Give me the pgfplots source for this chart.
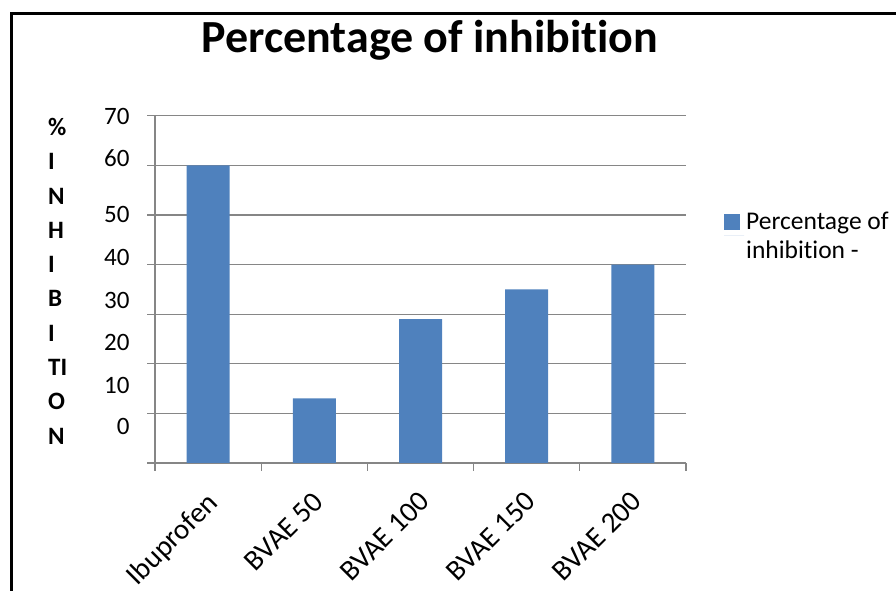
\documentclass[border=0pt]{standalone}
\usepackage{fontspec}
\setmainfont{Carlito}[Ligatures={NoCommon}]
\usepackage{pgfplots}
\pgfplotsset{compat=1.18}
\definecolor{barblue}{HTML}{4F81BD}
\definecolor{axgray}{HTML}{868686}

\begin{document}
\begin{tikzpicture}[x=1bp,y=1bp]
\path[use as bounding box] (0,0) rectangle (896,591);
% outer frame (top and left edges)
\draw[line width=3bp] (11,-2) -- (11,577) -- (898,577);
% chart title
\node[font=\bfseries\fontsize{46bp}{52bp}\selectfont, anchor=base, inner sep=0pt] at (430,538) {Percentage of inhibition};
% vertical axis title, one letter group per line
\node[font=\bfseries\fontsize{25bp}{34.3bp}\selectfont, anchor=north west, align=left, inner sep=0pt]
  at (48,473) {\%\\I\\N\\H\\I\\B\\I\\TI\\O\\N};

\begin{axis}[
  at={(155bp,128bp)}, anchor=south west,
  scale only axis, width=531bp, height=347.3bp,
  xmin=-0.5, xmax=4.5, ymin=0, ymax=70,
  axis x line*=bottom, axis y line*=left,
  axis line style={axgray, line width=1.2bp, -},
  tick align=outside,
  major tick length=8bp,
  tick style={axgray, line width=1.2bp},
  ymajorgrids, grid style={axgray, line width=1.2bp},
  ytick={0,10,...,70}, yticklabels={},
  xtick={-0.5,0.5,...,4.5}, xticklabels={},
  /pgf/number format/assume math mode=true,
  ticklabel style={font=\fontsize{25bp}{30bp}\selectfont, text=black},
  extra y ticks={7.3,15.7,24.2,32.8,41.5,50,61.5,69.9},
  extra y tick labels={0,10,20,30,40,50,60,70},
  extra y tick style={major tick length=0pt, grid=none,
    yticklabel style={font=\fontsize{25bp}{30bp}\selectfont, xshift=-22bp}},
  extra x ticks={0,1,2,3,4},
  extra x tick labels={Ibuprofen,BVAE 50,BVAE 100,BVAE 150,BVAE 200},
  extra x tick style={major tick length=0pt, grid=none,
    xticklabel style={font=\fontsize{29bp}{34bp}\selectfont, anchor=north east,
      inner sep=0pt, xshift=-3bp, yshift=-27bp, rotate=45}},
  ybar, bar width=43bp,
  legend style={draw=none, fill=none, at={(axis description cs:1.0716,0.729)}, anchor=north west,
    inner sep=0pt, font=\fontsize{25.5bp}{29bp}\selectfont,
    cells={align=left}},
  legend image code/.code={\fill[barblue] (0bp,6bp) rectangle (16bp,22bp); \path (0bp,0bp) -- (20bp,0bp);},
  clip=false,
]
\addplot[fill=barblue, draw=none] coordinates {(0,60) (1,13) (2,29) (3,35) (4,40)};
\addlegendentry{Percentage of\\inhibition -}
\end{axis}
\end{tikzpicture}
\end{document}
